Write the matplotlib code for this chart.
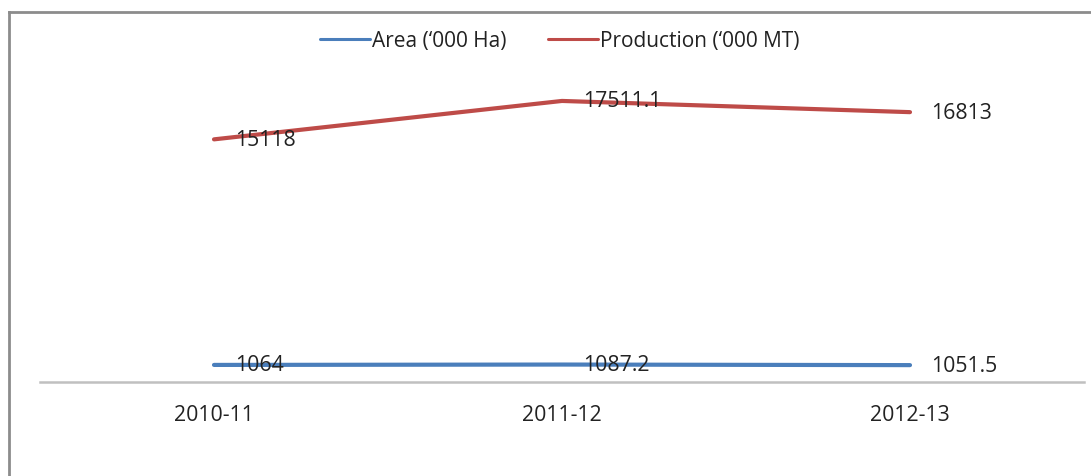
import matplotlib
matplotlib.use("Agg")
import matplotlib.pyplot as plt
from matplotlib.lines import Line2D

categories = ["2010-11", "2011-12", "2012-13"]
area = [1064, 1087.2, 1051.5]
production = [15118, 17511.1, 16813]
area_labels = ["1064", "1087.2", "1051.5"]
production_labels = ["15118", "17511.1", "16813"]
series_names = ["Area (\u2018000 Ha)", "Production (\u2018000 MT)"]

W, H = 1091, 477
plt.rcParams['font.family'] = ['Open Sans', 'DejaVu Sans']
fig = plt.figure(figsize=(W / 100, H / 100), dpi=100)
fig.patch.set_facecolor("white")

# outer border (left and top visible)
fig.add_artist(Line2D([9 / W, 9 / W], [0, 1 - 13 / H], transform=fig.transFigure,
                      color="#8c8c8c", lw=2.0))
fig.add_artist(Line2D([9 / W, 1], [1 - 13 / H, 1 - 13 / H], transform=fig.transFigure,
                      color="#8c8c8c", lw=2.0))

left, right = 40, 1084
top, bottom = 62, 383
ax = fig.add_axes([left / W, 1 - bottom / H, (right - left) / W, (bottom - top) / H])
ax.set_facecolor("none")

x = list(range(len(categories)))
blue = "#4a7ebb"
red = "#be4b48"
ax.plot(x, area, color=blue, lw=3, solid_capstyle="round", solid_joinstyle="round",
        label=series_names[0])
ax.plot(x, production, color=red, lw=3, solid_capstyle="round", solid_joinstyle="round",
        label=series_names[1])

fs = 15.3
tc = "#222222"
for xi, v, t in zip(x, area, area_labels):
    ax.annotate(t, (xi, v), xytext=(15, 0), textcoords="offset points",
                ha="left", va="center", fontsize=fs, color=tc)
for xi, v, t in zip(x, production, production_labels):
    ax.annotate(t, (xi, v), xytext=(15, 0), textcoords="offset points",
                ha="left", va="center", fontsize=fs, color=tc)

ax.set_xlim(-0.5, 2.5)
ax.set_ylim(0, 20000)
ax.set_xticks(x)
ax.set_xticklabels(categories, fontsize=fs, color=tc)
ax.tick_params(axis="x", length=0, pad=16)
ax.set_yticks([])
for s in ["left", "right", "top"]:
    ax.spines[s].set_visible(False)
ax.spines["bottom"].set_color("#c0c0c0")
ax.spines["bottom"].set_linewidth(1.8)

leg = fig.legend(loc="center", bbox_to_anchor=(560 / W, 1 - 42 / H), ncol=2,
                 frameon=False, fontsize=15, handlelength=2.4, handletextpad=0.1,
                 columnspacing=2.0)
for h in leg.legend_handles:
    h.set_linewidth(2.2)
for t in leg.get_texts():
    t.set_color(tc)

fig.savefig("out.png", dpi=100, facecolor="white")
